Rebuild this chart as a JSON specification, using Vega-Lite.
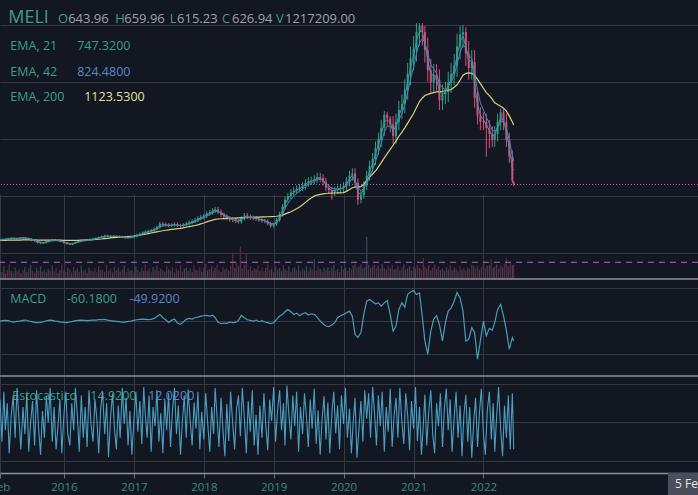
{
"$schema":"https://vega.github.io/schema/vega-lite/v6.json",
"width":698,"height":473,
"autosize":{"type":"none"},
"padding":{"left":0,"top":0,"right":0,"bottom":22},
"background":"#131722",
"config":{"view":{"stroke":null},"font":"Open Sans","axis":{"title":null},"scale":{"continuousPadding":0}},
"datasets":{
"p":[
{"d":"2015-02-01","o":163,"h":172,"l":156,"c":165,"a":165,"b":165,"e":160,"m":0},
{"d":"2015-02-16","o":165,"h":175,"l":158,"c":168,"a":167,"b":166,"e":161,"m":1},
{"d":"2015-03-01","o":168,"h":179,"l":161,"c":172,"a":170,"b":168,"e":161,"m":2},
{"d":"2015-03-16","o":172,"h":183,"l":165,"c":176,"a":174,"b":171,"e":162,"m":1},
{"d":"2015-04-01","o":176,"h":187,"l":169,"c":180,"a":178,"b":175,"e":162,"m":-2},
{"d":"2015-04-16","o":180,"h":187,"l":171,"c":178,"a":178,"b":176,"e":163,"m":-3},
{"d":"2015-05-01","o":178,"h":185,"l":168,"c":175,"a":176,"b":176,"e":163,"m":-1},
{"d":"2015-05-16","o":175,"h":187,"l":168,"c":180,"a":179,"b":178,"e":163,"m":0},
{"d":"2015-06-01","o":180,"h":190,"l":173,"c":183,"a":182,"b":180,"e":164,"m":2},
{"d":"2015-06-16","o":183,"h":190,"l":171,"c":178,"a":179,"b":179,"e":164,"m":3},
{"d":"2015-07-01","o":178,"h":185,"l":163,"c":170,"a":173,"b":176,"e":164,"m":0},
{"d":"2015-07-16","o":170,"h":177,"l":158,"c":165,"a":168,"b":172,"e":164,"m":-2},
{"d":"2015-08-01","o":165,"h":172,"l":149,"c":155,"a":160,"b":165,"e":164,"m":-4},
{"d":"2015-08-16","o":155,"h":161,"l":134,"c":140,"a":147,"b":155,"e":163,"m":-5},
{"d":"2015-09-01","o":140,"h":146,"l":130,"c":135,"a":140,"b":147,"e":163,"m":-4},
{"d":"2015-09-16","o":135,"h":146,"l":130,"c":140,"a":140,"b":144,"e":163,"m":-2},
{"d":"2015-10-01","o":140,"h":156,"l":134,"c":150,"a":146,"b":146,"e":163,"m":1},
{"d":"2015-10-16","o":150,"h":166,"l":144,"c":160,"a":155,"b":152,"e":163,"m":3},
{"d":"2015-11-01","o":160,"h":172,"l":154,"c":165,"a":161,"b":157,"e":163,"m":2},
{"d":"2015-11-16","o":165,"h":172,"l":154,"c":160,"a":160,"b":158,"e":163,"m":0},
{"d":"2015-12-01","o":160,"h":166,"l":152,"c":158,"a":159,"b":158,"e":162,"m":-1},
{"d":"2015-12-16","o":158,"h":164,"l":144,"c":150,"a":153,"b":155,"e":162,"m":-3},
{"d":"2016-01-01","o":150,"h":156,"l":134,"c":140,"a":145,"b":149,"e":161,"m":-4},
{"d":"2016-01-16","o":140,"h":146,"l":125,"c":130,"a":136,"b":142,"e":161,"m":-5},
{"d":"2016-02-01","o":130,"h":135,"l":120,"c":125,"a":129,"b":135,"e":160,"m":-3},
{"d":"2016-02-16","o":125,"h":140,"l":120,"c":135,"a":133,"b":135,"e":160,"m":-1},
{"d":"2016-03-01","o":135,"h":151,"l":130,"c":145,"a":141,"b":139,"e":161,"m":1},
{"d":"2016-03-16","o":145,"h":161,"l":139,"c":155,"a":150,"b":145,"e":161,"m":2},
{"d":"2016-04-01","o":155,"h":166,"l":149,"c":160,"a":156,"b":151,"e":162,"m":3},
{"d":"2016-04-16","o":160,"h":172,"l":154,"c":165,"a":162,"b":156,"e":163,"m":2},
{"d":"2016-05-01","o":166,"h":173,"l":158,"c":165,"a":164,"b":160,"e":164,"m":1},
{"d":"2016-05-16","o":165,"h":177,"l":158,"c":170,"a":168,"b":164,"e":165,"m":2},
{"d":"2016-06-01","o":170,"h":182,"l":163,"c":175,"a":172,"b":168,"e":166,"m":3},
{"d":"2016-06-16","o":175,"h":187,"l":168,"c":180,"a":177,"b":173,"e":168,"m":3},
{"d":"2016-07-01","o":180,"h":192,"l":173,"c":185,"a":182,"b":178,"e":170,"m":4},
{"d":"2016-07-16","o":185,"h":200,"l":178,"c":192,"a":188,"b":183,"e":172,"m":4},
{"d":"2016-08-01","o":192,"h":208,"l":184,"c":200,"a":196,"b":190,"e":175,"m":5},
{"d":"2016-08-16","o":200,"h":208,"l":190,"c":198,"a":197,"b":193,"e":178,"m":3},
{"d":"2016-09-01","o":198,"h":206,"l":185,"c":193,"a":194,"b":193,"e":181,"m":1},
{"d":"2016-09-16","o":193,"h":204,"l":185,"c":196,"a":195,"b":194,"e":183,"m":0},
{"d":"2016-10-01","o":196,"h":204,"l":187,"c":195,"a":195,"b":194,"e":185,"m":-1},
{"d":"2016-10-16","o":195,"h":203,"l":182,"c":190,"a":192,"b":192,"e":187,"m":-2},
{"d":"2016-11-01","o":190,"h":198,"l":178,"c":185,"a":188,"b":189,"e":189,"m":-3},
{"d":"2016-11-16","o":185,"h":192,"l":173,"c":180,"a":183,"b":186,"e":191,"m":-3},
{"d":"2016-12-01","o":180,"h":189,"l":173,"c":182,"a":182,"b":184,"e":193,"m":-1},
{"d":"2016-12-16","o":182,"h":196,"l":175,"c":188,"a":186,"b":186,"e":195,"m":0},
{"d":"2017-01-01","o":188,"h":205,"l":179,"c":195,"a":192,"b":190,"e":197,"m":2},
{"d":"2017-01-16","o":195,"h":215,"l":185,"c":205,"a":200,"b":196,"e":200,"m":4},
{"d":"2017-02-01","o":205,"h":226,"l":195,"c":215,"a":210,"b":203,"e":204,"m":5},
{"d":"2017-02-16","o":215,"h":236,"l":204,"c":225,"a":219,"b":212,"e":208,"m":6},
{"d":"2017-03-01","o":225,"h":244,"l":214,"c":232,"a":227,"b":220,"e":212,"m":5},
{"d":"2017-03-16","o":232,"h":250,"l":220,"c":238,"a":234,"b":227,"e":217,"m":4},
{"d":"2017-04-01","o":238,"h":257,"l":226,"c":245,"a":241,"b":234,"e":222,"m":5},
{"d":"2017-04-16","o":245,"h":268,"l":233,"c":255,"a":250,"b":242,"e":227,"m":8},
{"d":"2017-05-01","o":255,"h":284,"l":242,"c":270,"a":263,"b":253,"e":232,"m":14},
{"d":"2017-05-16","o":270,"h":315,"l":257,"c":300,"a":286,"b":271,"e":237,"m":20},
{"d":"2017-06-01","o":300,"h":315,"l":280,"c":295,"a":292,"b":280,"e":241,"m":10},
{"d":"2017-06-16","o":295,"h":310,"l":276,"c":290,"a":291,"b":284,"e":245,"m":4},
{"d":"2017-07-01","o":290,"h":305,"l":271,"c":285,"a":287,"b":284,"e":249,"m":-4},
{"d":"2017-07-16","o":285,"h":305,"l":271,"c":290,"a":289,"b":286,"e":252,"m":2},
{"d":"2017-08-01","o":290,"h":310,"l":276,"c":295,"a":293,"b":290,"e":255,"m":6},
{"d":"2017-08-16","o":295,"h":310,"l":271,"c":285,"a":288,"b":288,"e":258,"m":-6},
{"d":"2017-09-01","o":285,"h":299,"l":266,"c":280,"a":283,"b":285,"e":261,"m":-10},
{"d":"2017-09-16","o":280,"h":305,"l":266,"c":290,"a":287,"b":287,"e":265,"m":-3},
{"d":"2017-10-01","o":290,"h":315,"l":276,"c":300,"a":295,"b":292,"e":270,"m":5},
{"d":"2017-10-16","o":300,"h":326,"l":285,"c":310,"a":304,"b":299,"e":275,"m":8},
{"d":"2017-11-01","o":310,"h":336,"l":295,"c":320,"a":314,"b":307,"e":280,"m":6},
{"d":"2017-11-16","o":320,"h":347,"l":304,"c":330,"a":324,"b":316,"e":285,"m":10},
{"d":"2017-12-01","o":330,"h":362,"l":314,"c":345,"a":337,"b":327,"e":290,"m":12},
{"d":"2017-12-16","o":345,"h":373,"l":328,"c":355,"a":348,"b":338,"e":298,"m":15},
{"d":"2018-01-01","o":355,"h":383,"l":337,"c":365,"a":359,"b":349,"e":306,"m":16},
{"d":"2018-01-16","o":365,"h":404,"l":347,"c":385,"a":375,"b":363,"e":315,"m":17},
{"d":"2018-02-01","o":385,"h":415,"l":366,"c":395,"a":388,"b":376,"e":323,"m":15},
{"d":"2018-02-16","o":395,"h":431,"l":375,"c":410,"a":402,"b":389,"e":330,"m":18},
{"d":"2018-03-01","o":410,"h":441,"l":390,"c":420,"a":413,"b":401,"e":336,"m":10},
{"d":"2018-03-16","o":420,"h":441,"l":380,"c":400,"a":405,"b":401,"e":339,"m":-3},
{"d":"2018-04-01","o":400,"h":420,"l":356,"c":375,"a":386,"b":391,"e":341,"m":-8},
{"d":"2018-04-16","o":375,"h":394,"l":342,"c":360,"a":370,"b":379,"e":343,"m":-6},
{"d":"2018-05-01","o":360,"h":378,"l":328,"c":345,"a":354,"b":366,"e":344,"m":-7},
{"d":"2018-05-16","o":345,"h":362,"l":318,"c":335,"a":342,"b":354,"e":345,"m":-3},
{"d":"2018-06-01","o":335,"h":352,"l":314,"c":330,"a":334,"b":345,"e":346,"m":-5},
{"d":"2018-06-16","o":330,"h":347,"l":304,"c":320,"a":325,"b":335,"e":347,"m":-4},
{"d":"2018-07-01","o":320,"h":336,"l":299,"c":315,"a":319,"b":327,"e":348,"m":2},
{"d":"2018-07-16","o":315,"h":362,"l":299,"c":345,"a":335,"b":334,"e":349,"m":17},
{"d":"2018-08-01","o":345,"h":389,"l":328,"c":370,"a":357,"b":348,"e":350,"m":10},
{"d":"2018-08-16","o":370,"h":389,"l":342,"c":360,"a":359,"b":353,"e":351,"m":4},
{"d":"2018-09-01","o":360,"h":378,"l":333,"c":350,"a":353,"b":352,"e":352,"m":2},
{"d":"2018-09-16","o":350,"h":368,"l":328,"c":345,"a":348,"b":349,"e":353,"m":0},
{"d":"2018-10-01","o":345,"h":362,"l":323,"c":340,"a":343,"b":345,"e":354,"m":3},
{"d":"2018-10-16","o":340,"h":357,"l":314,"c":330,"a":335,"b":339,"e":355,"m":-2},
{"d":"2018-11-01","o":330,"h":347,"l":309,"c":325,"a":329,"b":334,"e":356,"m":1},
{"d":"2018-11-16","o":325,"h":341,"l":304,"c":320,"a":323,"b":328,"e":357,"m":-3},
{"d":"2018-12-01","o":320,"h":336,"l":285,"c":300,"a":308,"b":317,"e":358,"m":-5},
{"d":"2018-12-16","o":300,"h":315,"l":266,"c":280,"a":290,"b":303,"e":359,"m":-8},
{"d":"2019-01-01","o":280,"h":310,"l":266,"c":295,"a":293,"b":300,"e":360,"m":-5},
{"d":"2019-01-16","o":295,"h":347,"l":280,"c":330,"a":316,"b":312,"e":362,"m":5},
{"d":"2019-02-01","o":330,"h":399,"l":314,"c":380,"a":356,"b":339,"e":366,"m":15},
{"d":"2019-02-16","o":380,"h":462,"l":361,"c":440,"a":409,"b":378,"e":372,"m":20},
{"d":"2019-03-01","o":440,"h":525,"l":418,"c":500,"a":466,"b":426,"e":380,"m":28},
{"d":"2019-03-16","o":500,"h":557,"l":475,"c":530,"a":506,"b":467,"e":390,"m":35},
{"d":"2019-04-01","o":530,"h":588,"l":504,"c":560,"a":540,"b":503,"e":400,"m":28},
{"d":"2019-04-16","o":560,"h":604,"l":532,"c":575,"a":562,"b":531,"e":412,"m":20},
{"d":"2019-05-01","o":575,"h":620,"l":546,"c":590,"a":580,"b":554,"e":425,"m":24},
{"d":"2019-05-16","o":590,"h":630,"l":561,"c":600,"a":593,"b":572,"e":440,"m":16},
{"d":"2019-06-01","o":600,"h":646,"l":570,"c":615,"a":607,"b":589,"e":458,"m":22},
{"d":"2019-06-16","o":615,"h":672,"l":584,"c":640,"a":628,"b":609,"e":478,"m":25},
{"d":"2019-07-01","o":640,"h":688,"l":608,"c":655,"a":645,"b":627,"e":498,"m":18},
{"d":"2019-07-16","o":655,"h":693,"l":622,"c":660,"a":654,"b":640,"e":515,"m":22},
{"d":"2019-08-01","o":660,"h":704,"l":627,"c":670,"a":664,"b":652,"e":530,"m":20},
{"d":"2019-08-16","o":670,"h":725,"l":637,"c":690,"a":680,"b":667,"e":539,"m":12},
{"d":"2019-09-01","o":690,"h":725,"l":646,"c":680,"a":680,"b":672,"e":545,"m":0},
{"d":"2019-09-16","o":680,"h":714,"l":618,"c":650,"a":661,"b":663,"e":549,"m":-8},
{"d":"2019-10-01","o":650,"h":683,"l":570,"c":600,"a":623,"b":638,"e":552,"m":-15},
{"d":"2019-10-16","o":600,"h":630,"l":551,"c":580,"a":596,"b":615,"e":554,"m":-17},
{"d":"2019-11-01","o":580,"h":609,"l":500,"c":560,"a":573,"b":594,"e":555,"m":-12},
{"d":"2019-11-16","o":560,"h":609,"l":532,"c":580,"a":577,"b":589,"e":556,"m":-5},
{"d":"2019-12-01","o":580,"h":620,"l":551,"c":590,"a":585,"b":589,"e":557,"m":10},
{"d":"2019-12-16","o":590,"h":625,"l":561,"c":595,"a":591,"b":591,"e":558,"m":16},
{"d":"2020-01-01","o":595,"h":647,"l":559,"c":610,"a":603,"b":598,"e":560,"m":20},
{"d":"2020-01-16","o":610,"h":689,"l":573,"c":650,"a":633,"b":618,"e":570,"m":25},
{"d":"2020-02-01","o":650,"h":742,"l":611,"c":700,"a":675,"b":650,"e":585,"m":30},
{"d":"2020-02-16","o":700,"h":763,"l":658,"c":720,"a":703,"b":677,"e":600,"m":15},
{"d":"2020-03-01","o":720,"h":763,"l":602,"c":640,"a":663,"b":663,"e":606,"m":-40},
{"d":"2020-03-16","o":640,"h":678,"l":456,"c":500,"a":560,"b":599,"e":606,"m":-50},
{"d":"2020-04-01","o":500,"h":572,"l":470,"c":540,"a":547,"b":576,"e":610,"m":-35},
{"d":"2020-04-16","o":540,"h":657,"l":508,"c":620,"a":593,"b":593,"e":630,"m":20},
{"d":"2020-05-01","o":620,"h":742,"l":583,"c":700,"a":660,"b":635,"e":660,"m":60},
{"d":"2020-05-16","o":700,"h":827,"l":658,"c":780,"a":736,"b":692,"e":690,"m":65},
{"d":"2020-06-01","o":780,"h":890,"l":733,"c":840,"a":802,"b":750,"e":715,"m":58},
{"d":"2020-06-16","o":840,"h":986,"l":790,"c":930,"a":883,"b":820,"e":740,"m":52},
{"d":"2020-07-01","o":930,"h":1060,"l":874,"c":1000,"a":957,"b":890,"e":775,"m":55},
{"d":"2020-07-16","o":1000,"h":1166,"l":940,"c":1100,"a":1047,"b":972,"e":810,"m":45},
{"d":"2020-08-01","o":1100,"h":1240,"l":1034,"c":1210,"a":1150,"b":1065,"e":850,"m":55},
{"d":"2020-08-16","o":1210,"h":1235,"l":1109,"c":1180,"a":1169,"b":1110,"e":885,"m":62},
{"d":"2020-09-01","o":1180,"h":1200,"l":1062,"c":1130,"a":1144,"b":1118,"e":920,"m":20},
{"d":"2020-09-16","o":1130,"h":1198,"l":968,"c":1030,"a":1072,"b":1084,"e":955,"m":-30},
{"d":"2020-10-01","o":1030,"h":1219,"l":968,"c":1150,"a":1121,"b":1110,"e":990,"m":-15},
{"d":"2020-10-16","o":1150,"h":1325,"l":1081,"c":1250,"a":1202,"b":1165,"e":1030,"m":35},
{"d":"2020-11-01","o":1250,"h":1378,"l":1175,"c":1300,"a":1264,"b":1218,"e":1065,"m":55},
{"d":"2020-11-16","o":1300,"h":1505,"l":1222,"c":1420,"a":1362,"b":1297,"e":1100,"m":42},
{"d":"2020-12-01","o":1420,"h":1643,"l":1335,"c":1550,"a":1480,"b":1396,"e":1140,"m":81},
{"d":"2020-12-16","o":1550,"h":1781,"l":1457,"c":1680,"a":1606,"b":1507,"e":1180,"m":88},
{"d":"2021-01-01","o":1680,"h":1866,"l":1579,"c":1760,"a":1703,"b":1606,"e":1220,"m":92},
{"d":"2021-01-16","o":1760,"h":1975,"l":1654,"c":1900,"a":1827,"b":1721,"e":1270,"m":80},
{"d":"2021-02-01","o":1900,"h":1975,"l":1786,"c":1950,"a":1905,"b":1810,"e":1320,"m":85},
{"d":"2021-02-16","o":1950,"h":1975,"l":1786,"c":1900,"a":1902,"b":1845,"e":1350,"m":10},
{"d":"2021-03-01","o":1900,"h":1950,"l":1645,"c":1750,"a":1806,"b":1808,"e":1370,"m":-60},
{"d":"2021-03-16","o":1750,"h":1855,"l":1485,"c":1580,"a":1664,"b":1719,"e":1380,"m":-100},
{"d":"2021-04-01","o":1580,"h":1675,"l":1391,"c":1480,"a":1548,"b":1626,"e":1388,"m":-30},
{"d":"2021-04-16","o":1480,"h":1632,"l":1391,"c":1540,"a":1543,"b":1592,"e":1395,"m":5},
{"d":"2021-05-01","o":1540,"h":1632,"l":1410,"c":1500,"a":1516,"b":1556,"e":1400,"m":16},
{"d":"2021-05-16","o":1500,"h":1590,"l":1250,"c":1330,"a":1399,"b":1468,"e":1403,"m":-10},
{"d":"2021-06-01","o":1330,"h":1463,"l":1250,"c":1380,"a":1387,"b":1434,"e":1406,"m":-60},
{"d":"2021-06-16","o":1380,"h":1484,"l":1297,"c":1400,"a":1395,"b":1421,"e":1410,"m":-5},
{"d":"2021-07-01","o":1400,"h":1569,"l":1316,"c":1480,"a":1449,"b":1444,"e":1414,"m":30},
{"d":"2021-07-16","o":1480,"h":1643,"l":1391,"c":1550,"a":1513,"b":1485,"e":1420,"m":40},
{"d":"2021-08-01","o":1550,"h":1717,"l":1457,"c":1620,"a":1580,"b":1538,"e":1440,"m":60},
{"d":"2021-08-16","o":1620,"h":1887,"l":1523,"c":1780,"a":1706,"b":1632,"e":1460,"m":86},
{"d":"2021-09-01","o":1780,"h":1950,"l":1673,"c":1880,"a":1816,"b":1729,"e":1500,"m":70},
{"d":"2021-09-16","o":1880,"h":1960,"l":1767,"c":1900,"a":1869,"b":1796,"e":1540,"m":30},
{"d":"2021-10-01","o":1900,"h":1940,"l":1617,"c":1720,"a":1775,"b":1766,"e":1555,"m":-60},
{"d":"2021-10-16","o":1720,"h":1823,"l":1504,"c":1600,"a":1665,"b":1701,"e":1560,"m":-55},
{"d":"2021-11-01","o":1600,"h":1749,"l":1504,"c":1650,"a":1656,"b":1681,"e":1556,"m":-20},
{"d":"2021-11-16","o":1650,"h":1749,"l":1269,"c":1350,"a":1463,"b":1552,"e":1540,"m":-35},
{"d":"2021-12-01","o":1350,"h":1431,"l":1128,"c":1200,"a":1297,"b":1415,"e":1505,"m":-115},
{"d":"2021-12-16","o":1200,"h":1272,"l":1081,"c":1150,"a":1204,"b":1312,"e":1470,"m":-60},
{"d":"2022-01-01","o":1160,"h":1230,"l":1081,"c":1150,"a":1170,"b":1249,"e":1430,"m":0},
{"d":"2022-01-16","o":1150,"h":1219,"l":860,"c":1100,"a":1126,"b":1191,"e":1395,"m":-45},
{"d":"2022-02-01","o":1100,"h":1166,"l":930,"c":1050,"a":1078,"b":1136,"e":1370,"m":-22},
{"d":"2022-02-16","o":1050,"h":1113,"l":940,"c":1000,"a":1029,"b":1083,"e":1340,"m":-28},
{"d":"2022-03-01","o":1000,"h":1113,"l":940,"c":1050,"a":1042,"b":1070,"e":1310,"m":-5},
{"d":"2022-03-16","o":1050,"h":1219,"l":987,"c":1150,"a":1110,"b":1101,"e":1295,"m":35},
{"d":"2022-04-01","o":1150,"h":1260,"l":1081,"c":1230,"a":1186,"b":1151,"e":1280,"m":50},
{"d":"2022-04-16","o":1230,"h":1260,"l":1081,"c":1150,"a":1163,"b":1151,"e":1265,"m":15},
{"d":"2022-05-01","o":1150,"h":1219,"l":940,"c":1000,"a":1060,"b":1092,"e":1240,"m":-29},
{"d":"2022-05-16","o":1000,"h":1060,"l":808,"c":860,"a":934,"b":1002,"e":1200,"m":-85},
{"d":"2022-06-01","o":860,"h":912,"l":640,"c":660,"a":761,"b":869,"e":1150,"m":-50},
{"d":"2022-06-08","o":644,"h":660,"l":615,"c":627,"a":747,"b":824,"e":1124,"m":-60}
],
"s":[
{"d":"2015-02-01","k":80,"v":0.45,"u":1},{"d":"2015-02-11","k":25,"v":0.30,"u":0},{"d":"2015-02-21","k":90,"v":0.55,"u":1},{"d":"2015-03-01","k":40,"v":0.25,"u":1},{"d":"2015-03-11","k":75,"v":0.40,"u":0},{"d":"2015-03-21","k":10,"v":0.62,"u":0},{"d":"2015-04-01","k":60,"v":0.35,"u":1},{"d":"2015-04-11","k":85,"v":0.28,"u":0},{"d":"2015-04-21","k":30,"v":0.50,"u":1},{"d":"2015-05-01","k":95,"v":0.33,"u":0},{"d":"2015-05-11","k":55,"v":0.42,"u":0},{"d":"2015-05-21","k":15,"v":0.26,"u":1},
{"d":"2015-06-01","k":70,"v":0.38,"u":0},{"d":"2015-06-11","k":35,"v":0.52,"u":1},{"d":"2015-06-21","k":88,"v":0.30,"u":1},{"d":"2015-07-01","k":12,"v":0.46,"u":0},{"d":"2015-07-11","k":50,"v":0.60,"u":1},{"d":"2015-07-21","k":78,"v":0.34,"u":0},{"d":"2015-08-01","k":20,"v":0.27,"u":0},{"d":"2015-08-11","k":92,"v":0.48,"u":1},{"d":"2015-08-21","k":45,"v":0.36,"u":0},{"d":"2015-09-01","k":8,"v":0.55,"u":1},{"d":"2015-09-11","k":65,"v":0.31,"u":1},{"d":"2015-09-21","k":30,"v":0.40,"u":0},
{"d":"2015-10-01","k":85,"v":0.29,"u":1},{"d":"2015-10-11","k":50,"v":0.44,"u":1},{"d":"2015-10-21","k":95,"v":0.35,"u":0},{"d":"2015-11-01","k":25,"v":0.58,"u":1},{"d":"2015-11-11","k":70,"v":0.32,"u":0},{"d":"2015-11-21","k":15,"v":0.47,"u":0},{"d":"2015-12-01","k":45,"v":0.26,"u":1},{"d":"2015-12-11","k":80,"v":0.39,"u":1},{"d":"2015-12-21","k":10,"v":0.62,"u":0},{"d":"2016-01-01","k":60,"v":0.37,"u":1},{"d":"2016-01-11","k":90,"v":0.30,"u":0},{"d":"2016-01-21","k":35,"v":0.50,"u":1},
{"d":"2016-02-01","k":20,"v":0.42,"u":0},{"d":"2016-02-11","k":75,"v":0.28,"u":1},{"d":"2016-02-21","k":40,"v":0.53,"u":0},{"d":"2016-03-01","k":95,"v":0.36,"u":1},{"d":"2016-03-11","k":60,"v":0.45,"u":1},{"d":"2016-03-21","k":12,"v":0.31,"u":0},{"d":"2016-04-01","k":85,"v":0.57,"u":1},{"d":"2016-04-11","k":30,"v":0.34,"u":0},{"d":"2016-04-21","k":70,"v":0.40,"u":0},{"d":"2016-05-01","k":18,"v":0.27,"u":1},{"d":"2016-05-11","k":92,"v":0.49,"u":1},{"d":"2016-05-21","k":50,"v":0.38,"u":0},
{"d":"2016-06-01","k":25,"v":0.33,"u":1},{"d":"2016-06-11","k":80,"v":0.46,"u":0},{"d":"2016-06-21","k":55,"v":0.29,"u":0},{"d":"2016-07-01","k":10,"v":0.55,"u":1},{"d":"2016-07-11","k":68,"v":0.38,"u":1},{"d":"2016-07-21","k":90,"v":0.41,"u":0},{"d":"2016-08-01","k":35,"v":0.30,"u":1},{"d":"2016-08-11","k":75,"v":0.60,"u":0},{"d":"2016-08-21","k":5,"v":0.35,"u":1},{"d":"2016-09-01","k":58,"v":0.44,"u":0},{"d":"2016-09-11","k":88,"v":0.28,"u":1},{"d":"2016-09-21","k":42,"v":0.52,"u":0},
{"d":"2016-10-01","k":15,"v":0.37,"u":0},{"d":"2016-10-11","k":72,"v":0.50,"u":1},{"d":"2016-10-21","k":30,"v":0.32,"u":1},{"d":"2016-11-01","k":95,"v":0.43,"u":0},{"d":"2016-11-11","k":48,"v":0.58,"u":1},{"d":"2016-11-21","k":82,"v":0.30,"u":0},{"d":"2016-12-01","k":20,"v":0.46,"u":0},{"d":"2016-12-11","k":65,"v":0.35,"u":1},{"d":"2016-12-21","k":8,"v":0.40,"u":1},{"d":"2017-01-01","k":55,"v":0.27,"u":0},{"d":"2017-01-11","k":90,"v":0.54,"u":1},{"d":"2017-01-21","k":38,"v":0.39,"u":0},
{"d":"2017-02-01","k":78,"v":0.31,"u":1},{"d":"2017-02-11","k":22,"v":0.48,"u":0},{"d":"2017-02-21","k":96,"v":0.36,"u":1},{"d":"2017-03-01","k":60,"v":0.62,"u":0},{"d":"2017-03-11","k":30,"v":0.33,"u":1},{"d":"2017-03-21","k":85,"v":0.45,"u":1},{"d":"2017-04-01","k":12,"v":0.29,"u":0},{"d":"2017-04-11","k":70,"v":0.52,"u":1},{"d":"2017-04-21","k":45,"v":0.40,"u":0},{"d":"2017-05-01","k":92,"v":0.57,"u":1},{"d":"2017-05-11","k":25,"v":0.34,"u":0},{"d":"2017-05-21","k":62,"v":0.44,"u":1},
{"d":"2017-06-01","k":10,"v":0.38,"u":0},{"d":"2017-06-11","k":80,"v":0.30,"u":1},{"d":"2017-06-21","k":40,"v":0.55,"u":0},{"d":"2017-07-01","k":88,"v":0.42,"u":1},{"d":"2017-07-11","k":18,"v":0.35,"u":1},{"d":"2017-07-21","k":66,"v":0.49,"u":0},{"d":"2017-08-01","k":95,"v":0.28,"u":1},{"d":"2017-08-11","k":35,"v":0.46,"u":0},{"d":"2017-08-21","k":72,"v":0.37,"u":1},{"d":"2017-09-01","k":8,"v":0.60,"u":0},{"d":"2017-09-11","k":52,"v":0.32,"u":0},{"d":"2017-09-21","k":85,"v":0.43,"u":1},
{"d":"2017-10-01","k":30,"v":0.50,"u":1},{"d":"2017-10-11","k":93,"v":0.34,"u":1},{"d":"2017-10-21","k":55,"v":0.45,"u":0},{"d":"2017-11-01","k":20,"v":0.29,"u":1},{"d":"2017-11-11","k":76,"v":0.58,"u":0},{"d":"2017-11-21","k":42,"v":0.40,"u":1},{"d":"2017-12-01","k":90,"v":0.36,"u":0},{"d":"2017-12-11","k":15,"v":0.53,"u":0},{"d":"2017-12-21","k":64,"v":0.31,"u":1},{"d":"2018-01-01","k":28,"v":0.47,"u":1},{"d":"2018-01-11","k":88,"v":0.64,"u":0},{"d":"2018-01-21","k":50,"v":0.38,"u":1},
{"d":"2018-02-01","k":12,"v":0.44,"u":0},{"d":"2018-02-11","k":70,"v":0.55,"u":1},{"d":"2018-02-21","k":35,"v":0.35,"u":0},{"d":"2018-03-01","k":95,"v":0.48,"u":1},{"d":"2018-03-11","k":58,"v":0.62,"u":0},{"d":"2018-03-21","k":18,"v":0.39,"u":0},{"d":"2018-04-01","k":82,"v":0.30,"u":1},{"d":"2018-04-11","k":40,"v":0.52,"u":0},{"d":"2018-04-21","k":6,"v":0.41,"u":1},{"d":"2018-05-01","k":74,"v":0.46,"u":0},{"d":"2018-05-11","k":26,"v":0.36,"u":1},{"d":"2018-05-21","k":90,"v":0.57,"u":0},
{"d":"2018-06-01","k":48,"v":1.13,"u":0},{"d":"2018-06-11","k":15,"v":0.48,"u":1},{"d":"2018-06-21","k":68,"v":0.70,"u":0},{"d":"2018-07-01","k":85,"v":0.55,"u":1},{"d":"2018-07-11","k":32,"v":1.39,"u":0},{"d":"2018-07-21","k":95,"v":0.45,"u":1},{"d":"2018-08-01","k":55,"v":0.60,"u":0},{"d":"2018-08-11","k":10,"v":1.12,"u":0},{"d":"2018-08-21","k":78,"v":0.40,"u":1},{"d":"2018-09-01","k":38,"v":0.55,"u":0},{"d":"2018-09-11","k":92,"v":0.35,"u":1},{"d":"2018-09-21","k":20,"v":0.47,"u":0},
{"d":"2018-10-01","k":60,"v":0.42,"u":1},{"d":"2018-10-11","k":8,"v":0.58,"u":0},{"d":"2018-10-21","k":72,"v":0.36,"u":1},{"d":"2018-11-01","k":30,"v":0.50,"u":0},{"d":"2018-11-11","k":88,"v":0.33,"u":0},{"d":"2018-11-21","k":45,"v":0.47,"u":1},{"d":"2018-12-01","k":14,"v":0.62,"u":0},{"d":"2018-12-11","k":80,"v":0.38,"u":0},{"d":"2018-12-21","k":52,"v":0.44,"u":1},{"d":"2019-01-01","k":96,"v":0.30,"u":1},{"d":"2019-01-11","k":25,"v":0.53,"u":0},{"d":"2019-01-21","k":65,"v":0.41,"u":1},
{"d":"2019-02-01","k":92,"v":0.48,"u":1},{"d":"2019-02-11","k":40,"v":0.35,"u":1},{"d":"2019-02-21","k":75,"v":0.60,"u":0},{"d":"2019-03-01","k":20,"v":0.42,"u":1},{"d":"2019-03-11","k":98,"v":0.37,"u":0},{"d":"2019-03-21","k":62,"v":0.55,"u":1},{"d":"2019-04-01","k":28,"v":0.31,"u":1},{"d":"2019-04-11","k":85,"v":0.46,"u":0},{"d":"2019-04-21","k":45,"v":0.52,"u":1},{"d":"2019-05-01","k":90,"v":0.39,"u":0},{"d":"2019-05-11","k":12,"v":0.58,"u":1},{"d":"2019-05-21","k":70,"v":0.34,"u":1},
{"d":"2019-06-01","k":35,"v":0.45,"u":0},{"d":"2019-06-11","k":88,"v":0.38,"u":1},{"d":"2019-06-21","k":58,"v":0.56,"u":1},{"d":"2019-07-01","k":18,"v":0.33,"u":0},{"d":"2019-07-11","k":80,"v":0.49,"u":1},{"d":"2019-07-21","k":42,"v":0.40,"u":0},{"d":"2019-08-01","k":94,"v":0.85,"u":1},{"d":"2019-08-11","k":22,"v":0.36,"u":0},{"d":"2019-08-21","k":66,"v":0.54,"u":0},{"d":"2019-09-01","k":8,"v":0.43,"u":1},{"d":"2019-09-11","k":55,"v":0.31,"u":0},{"d":"2019-09-21","k":84,"v":0.50,"u":1},
{"d":"2019-10-01","k":28,"v":0.39,"u":0},{"d":"2019-10-11","k":76,"v":0.52,"u":1},{"d":"2019-10-21","k":10,"v":0.34,"u":0},{"d":"2019-11-01","k":62,"v":0.47,"u":1},{"d":"2019-11-11","k":90,"v":0.60,"u":1},{"d":"2019-11-21","k":36,"v":0.36,"u":0},{"d":"2019-12-01","k":72,"v":0.44,"u":1},{"d":"2019-12-11","k":15,"v":0.30,"u":0},{"d":"2019-12-21","k":85,"v":0.55,"u":1},{"d":"2020-01-01","k":48,"v":0.41,"u":0},{"d":"2020-01-11","k":95,"v":0.48,"u":1},{"d":"2020-01-21","k":30,"v":0.35,"u":0},
{"d":"2020-02-01","k":68,"v":0.50,"u":1},{"d":"2020-02-11","k":10,"v":0.42,"u":0},{"d":"2020-02-21","k":52,"v":0.58,"u":1},{"d":"2020-03-01","k":82,"v":0.66,"u":0},{"d":"2020-03-11","k":4,"v":0.48,"u":0},{"d":"2020-03-21","k":40,"v":0.55,"u":1},{"d":"2020-04-01","k":78,"v":0.62,"u":1},{"d":"2020-04-11","k":25,"v":0.45,"u":0},{"d":"2020-04-21","k":92,"v":0.52,"u":1},{"d":"2020-05-01","k":55,"v":1.82,"u":1},{"d":"2020-05-11","k":88,"v":0.60,"u":0},{"d":"2020-05-21","k":30,"v":0.47,"u":1},
{"d":"2020-06-01","k":96,"v":0.55,"u":1},{"d":"2020-06-11","k":62,"v":0.62,"u":0},{"d":"2020-06-21","k":20,"v":0.48,"u":0},{"d":"2020-07-01","k":85,"v":0.58,"u":1},{"d":"2020-07-11","k":45,"v":0.45,"u":0},{"d":"2020-07-21","k":90,"v":0.66,"u":1},{"d":"2020-08-01","k":12,"v":0.50,"u":0},{"d":"2020-08-11","k":70,"v":0.42,"u":1},{"d":"2020-08-21","k":38,"v":0.57,"u":0},{"d":"2020-09-01","k":94,"v":0.46,"u":1},{"d":"2020-09-11","k":18,"v":0.60,"u":0},{"d":"2020-09-21","k":58,"v":0.40,"u":1},
{"d":"2020-10-01","k":82,"v":0.44,"u":1},{"d":"2020-10-11","k":30,"v":0.56,"u":0},{"d":"2020-10-21","k":95,"v":0.38,"u":1},{"d":"2020-11-01","k":50,"v":0.50,"u":0},{"d":"2020-11-11","k":22,"v":0.62,"u":1},{"d":"2020-11-21","k":88,"v":0.41,"u":1},{"d":"2020-12-01","k":60,"v":0.47,"u":0},{"d":"2020-12-11","k":14,"v":0.55,"u":1},{"d":"2020-12-21","k":78,"v":0.36,"u":1},{"d":"2021-01-01","k":42,"v":0.52,"u":0},{"d":"2021-01-11","k":96,"v":0.45,"u":1},{"d":"2021-01-21","k":26,"v":0.60,"u":0},
{"d":"2021-02-01","k":70,"v":0.48,"u":1},{"d":"2021-02-11","k":8,"v":0.40,"u":0},{"d":"2021-02-21","k":48,"v":0.90,"u":0},{"d":"2021-03-01","k":86,"v":0.53,"u":0},{"d":"2021-03-11","k":20,"v":0.45,"u":1},{"d":"2021-03-21","k":64,"v":0.58,"u":0},{"d":"2021-04-01","k":92,"v":0.37,"u":1},{"d":"2021-04-11","k":35,"v":0.50,"u":0},{"d":"2021-04-21","k":10,"v":0.62,"u":0},{"d":"2021-05-01","k":75,"v":0.42,"u":1},{"d":"2021-05-11","k":45,"v":0.55,"u":0},{"d":"2021-05-21","k":88,"v":0.39,"u":1},
{"d":"2021-06-01","k":18,"v":0.46,"u":1},{"d":"2021-06-11","k":68,"v":0.35,"u":1},{"d":"2021-06-21","k":94,"v":0.52,"u":0},{"d":"2021-07-01","k":40,"v":0.41,"u":1},{"d":"2021-07-11","k":80,"v":0.58,"u":0},{"d":"2021-07-21","k":12,"v":0.38,"u":1},{"d":"2021-08-01","k":56,"v":0.49,"u":1},{"d":"2021-08-11","k":90,"v":0.44,"u":0},{"d":"2021-08-21","k":30,"v":0.33,"u":1},{"d":"2021-09-01","k":72,"v":0.55,"u":0},{"d":"2021-09-11","k":6,"v":0.40,"u":1},{"d":"2021-09-21","k":60,"v":0.47,"u":0},
{"d":"2021-10-01","k":86,"v":0.36,"u":0},{"d":"2021-10-11","k":25,"v":0.50,"u":1},{"d":"2021-10-21","k":70,"v":0.42,"u":0},{"d":"2021-11-01","k":4,"v":0.62,"u":0},{"d":"2021-11-11","k":50,"v":0.55,"u":1},{"d":"2021-11-21","k":82,"v":0.45,"u":0},{"d":"2021-12-01","k":18,"v":0.58,"u":0},{"d":"2021-12-11","k":62,"v":0.40,"u":1},{"d":"2021-12-21","k":94,"v":0.52,"u":0},{"d":"2022-01-01","k":35,"v":0.66,"u":1},{"d":"2022-01-11","k":8,"v":0.47,"u":0},{"d":"2022-01-21","k":66,"v":0.57,"u":1},
{"d":"2022-02-01","k":90,"v":0.60,"u":1},{"d":"2022-02-11","k":28,"v":0.85,"u":0},{"d":"2022-02-21","k":75,"v":0.48,"u":1},{"d":"2022-03-01","k":12,"v":0.55,"u":0},{"d":"2022-03-11","k":58,"v":0.62,"u":1},{"d":"2022-03-21","k":96,"v":0.45,"u":0},{"d":"2022-04-01","k":40,"v":0.58,"u":0},{"d":"2022-04-11","k":6,"v":0.50,"u":1},{"d":"2022-04-21","k":72,"v":0.66,"u":0},{"d":"2022-05-01","k":30,"v":0.89,"u":0},{"d":"2022-05-11","k":85,"v":0.55,"u":1},{"d":"2022-05-21","k":15,"v":0.70,"u":0},
{"d":"2022-06-01","k":88,"v":0.60,"u":1},{"d":"2022-06-08","k":15,"v":0.62,"u":0}
],
"tp":[
{"d":"2015-03-16","y":1973,"t":"MELI","c":"#3b9e89","s":18},
{"d":"2015-12-01","y":1973,"t":"O","c":"#3b9e89","s":13},
{"d":"2016-01-23","y":1973,"t":"643.96","c":"#9ea2aa","s":13},
{"d":"2016-09-25","y":1973,"t":"H","c":"#3b9e89","s":13},
{"d":"2016-11-11","y":1973,"t":"659.96","c":"#9ea2aa","s":13},
{"d":"2017-07-07","y":1973,"t":"L","c":"#3b9e89","s":13},
{"d":"2017-08-14","y":1973,"t":"615.23","c":"#9ea2aa","s":13},
{"d":"2018-04-06","y":1973,"t":"C","c":"#3b9e89","s":13},
{"d":"2018-05-28","y":1973,"t":"626.94","c":"#9ea2aa","s":13},
{"d":"2019-01-13","y":1973,"t":"V","c":"#3b9e89","s":13},
{"d":"2019-03-01","y":1973,"t":"1217209.00","c":"#9ea2aa","s":13},
{"d":"2015-03-27","y":1750,"t":"EMA, 21","c":"#3b9e89","s":12.5},
{"d":"2016-03-10","y":1750,"t":"747.3200","c":"#3b9e89","s":12.5},
{"d":"2015-03-27","y":1533,"t":"EMA, 42","c":"#3b9e89","s":12.5},
{"d":"2016-03-10","y":1533,"t":"824.4800","c":"#5a86c6","s":12.5},
{"d":"2015-03-27","y":1324,"t":"EMA, 200","c":"#3b9e89","s":12.5},
{"d":"2016-04-16","y":1324,"t":"1123.5300","c":"#e3e09a","s":12.5}
],
"tm":[
{"d":"2015-03-27","y":54,"t":"MACD","c":"#3b9e89","s":12.5},
{"d":"2016-01-16","y":54,"t":"-60.1800","c":"#3b9e89","s":12.5},
{"d":"2016-12-08","y":54,"t":"-49.9200","c":"#5a86c6","s":12.5}
],
"ts":[
{"d":"2015-04-06","y":79,"t":"Estocastico","c":"#3b9e89","s":12.5},
{"d":"2016-05-18","y":79,"t":"14.9200","c":"#3b9e89","s":12.5},
{"d":"2017-03-16","y":79,"t":"12.0200","c":"#5a86c6","s":12.5}
]
},
"layer":[
{"data":{"name":"s"},
 "layer":[
  {"mark":{"type":"bar","width":1.3},
   "encoding":{"x":{"field":"d","type":"temporal","scale":{"padding":0}},
    "y":{"field":"v","type":"quantitative","scale":{"domain":[0,12],"range":[279,0],"nice":false,"zero":false},"axis":null},
    "color":{"condition":{"test":"datum.u==1","value":"#3a4456"},"value":"#5e2a3b"}}},
  {"data":{"values":[{"y":0.72}]},"mark":{"type":"rule","color":"#b662d6","strokeDash":[6,5],"strokeWidth":1.2},
   "encoding":{"y":{"field":"y","type":"quantitative"}}}
 ]},
{"data":{"name":"p"},
 "layer":[
  {"mark":{"type":"rule","strokeWidth":1},
   "encoding":{
    "x":{"field":"d","type":"temporal",
     "scale":{"type":"utc","padding":0,"nice":false,"domain":[{"year":2015,"month":2,"date":1,"utc":true},{"year":2025,"month":1,"date":26,"utc":true}]},
     "axis":{"values":[{"year":2015,"month":2,"date":1,"utc":true},{"year":2016,"month":1,"date":1,"utc":true},{"year":2017,"month":1,"date":1,"utc":true},{"year":2018,"month":1,"date":1,"utc":true},{"year":2019,"month":1,"date":1,"utc":true},{"year":2020,"month":1,"date":1,"utc":true},{"year":2021,"month":1,"date":1,"utc":true},{"year":2022,"month":1,"date":1,"utc":true}],
      "labelExpr":"utcmonth(datum.value)==0 ? utcFormat(datum.value,'%Y') : utcFormat(datum.value,'%b')",
      "grid":true,"gridColor":"#353946","domainColor":"#8c9099","domainWidth":1.5,"tickColor":"#6a6e78","tickSize":5,
      "labelColor":"#35907b","labelFontSize":11.5,"labelPadding":3,"labelFlush":false,"labelOverlap":false,"labelFont":"Open Sans"}},
    "y":{"field":"l","type":"quantitative","scale":{"domain":[-162,2168],"range":[279,0],"nice":false,"zero":false},
     "axis":{"values":[55,531,1006,1483,1959],"grid":true,"gridColor":"#353946","labels":false,"ticks":false,"domain":false}},
    "y2":{"field":"h"},
    "color":{"condition":{"test":"datum.c>=datum.o","value":"#2e9f8a"},"value":"#dc4a80"}}},
  {"mark":{"type":"bar","width":2},
   "encoding":{"x":{"field":"d","type":"temporal"},"y":{"field":"o","type":"quantitative"},"y2":{"field":"c"},
    "color":{"condition":{"test":"datum.c>=datum.o","value":"#2e9f8a"},"value":"#dc4a80"}}},
  {"mark":{"type":"line","color":"#d6d17c","strokeWidth":1.2},"encoding":{"x":{"field":"d","type":"temporal"},"y":{"field":"e","type":"quantitative"}}},
  {"mark":{"type":"line","color":"#4f7fc0","strokeWidth":1},"encoding":{"x":{"field":"d","type":"temporal"},"y":{"field":"b","type":"quantitative"}}},
  {"mark":{"type":"line","color":"#3a9a8e","strokeWidth":1},"encoding":{"x":{"field":"d","type":"temporal"},"y":{"field":"a","type":"quantitative"}}},
  {"data":{"values":[{"y":627}]},"mark":{"type":"rule","color":"#cf5aa6","strokeDash":[1,2],"strokeWidth":1},
   "encoding":{"y":{"field":"y","type":"quantitative"}}},
  {"data":{"name":"tp"},"mark":{"type":"text","align":"left","baseline":"alphabetic"},
   "encoding":{"x":{"field":"d","type":"temporal"},"y":{"field":"y","type":"quantitative"},"text":{"field":"t"},
    "color":{"field":"c","type":"nominal","scale":null},"size":{"field":"s","type":"quantitative","scale":null}}}
 ]},
{"data":{"name":"p"},
 "layer":[
  {"mark":{"type":"line","color":"#4a9db8","strokeWidth":1.2},
   "encoding":{"x":{"field":"d","type":"temporal"},
    "y":{"field":"m","type":"quantitative","scale":{"domain":[-166,127],"range":[376,279],"nice":false,"zero":false},
     "axis":{"values":[-100,0,100],"grid":true,"gridColor":"#353946","labels":false,"ticks":false,"domain":false}}}},
  {"data":{"values":[{"y":-166},{"y":127}]},"mark":{"type":"rule","color":"#8c9099","strokeWidth":1.5},
   "encoding":{"y":{"field":"y","type":"quantitative"}}},
  {"data":{"name":"tm"},"mark":{"type":"text","align":"left","baseline":"alphabetic"},
   "encoding":{"x":{"field":"d","type":"temporal"},"y":{"field":"y","type":"quantitative"},"text":{"field":"t"},
    "color":{"field":"c","type":"nominal","scale":null},"size":{"field":"s","type":"quantitative","scale":null}}}
 ]},
{"data":{"name":"s"},
 "layer":[
  {"data":{"name":"ts"},"mark":{"type":"text","align":"left","baseline":"alphabetic"},
   "encoding":{"x":{"field":"d","type":"temporal"},
    "y":{"field":"y","type":"quantitative","scale":{"domain":[-15.8,110.5],"range":[473,376],"nice":false,"zero":false},
     "axis":{"values":[0,50,100],"grid":true,"gridColor":"#353946","labels":false,"ticks":false,"domain":false}},
    "text":{"field":"t"},
    "color":{"field":"c","type":"nominal","scale":null},"size":{"field":"s","type":"quantitative","scale":null}}},
  {"mark":{"type":"line","color":"#4b9ec2","strokeWidth":1.1},
   "encoding":{"x":{"field":"d","type":"temporal"},"y":{"field":"k","type":"quantitative"}}}
 ]},
{"data":{"values":[{"d":"2024-08-22","d2":"2025-06-01","dt":"2024-09-28","y":0,"y2":1}]},
 "layer":[
  {"mark":{"type":"rect","color":"#4a4e5a"},
   "encoding":{"x":{"field":"d","type":"temporal"},"x2":{"field":"d2"},
    "y":{"field":"y","type":"quantitative","scale":{"domain":[0,1],"range":[495,473],"nice":false,"zero":false},"axis":null},"y2":{"field":"y2"}}},
  {"mark":{"type":"text","align":"left","baseline":"middle","color":"#e4e4e4","fontSize":12},
   "encoding":{"x":{"field":"dt","type":"temporal"},"y":{"datum":0.5,"type":"quantitative"},"text":{"value":"5 Feb"}}}
 ]}
],
"resolve":{"scale":{"y":"independent"},"axis":{"y":"independent"}}
}
